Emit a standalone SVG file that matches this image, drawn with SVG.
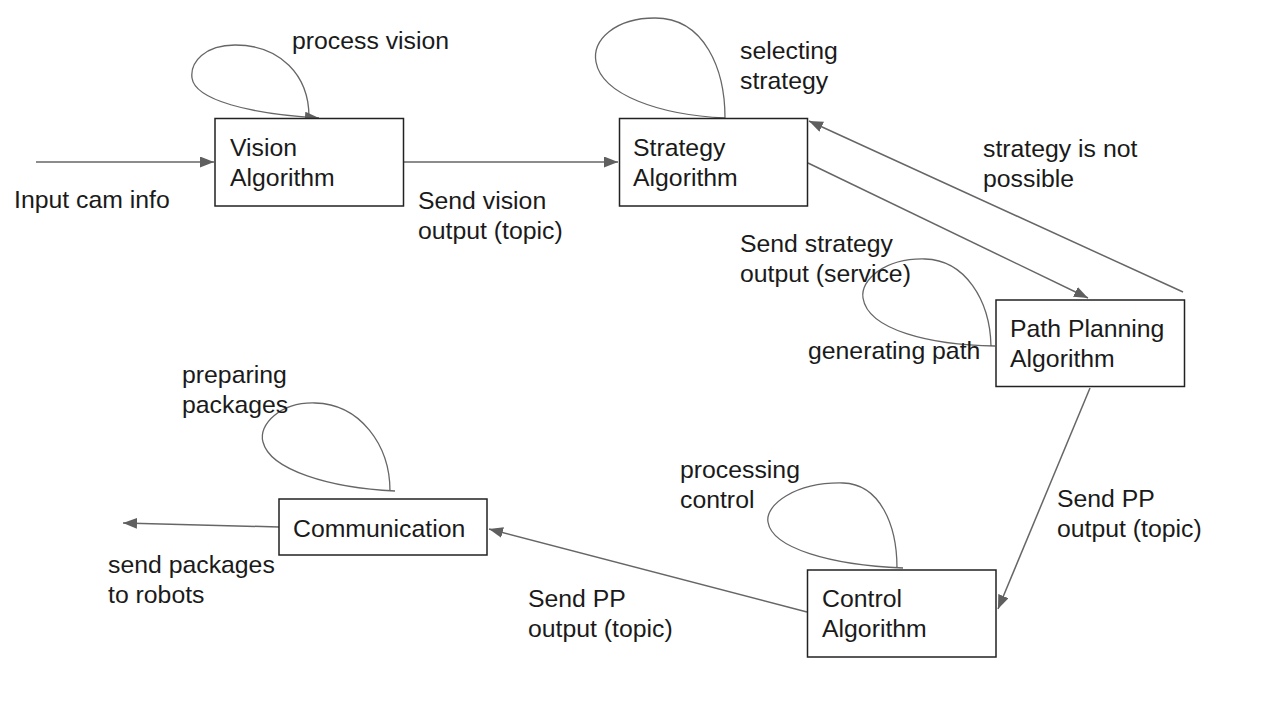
<svg xmlns="http://www.w3.org/2000/svg" width="1286" height="715" viewBox="0 0 1286 715">
<style>
  .box { fill: #ffffff; stroke: #222222; stroke-width: 1.5; }
  .t { font-family: "Liberation Sans", Arial, sans-serif; font-size: 24.8px; fill: #1a1a1a; }
  .edge { fill: none; stroke: #666666; stroke-width: 1.5; }
  .loop { fill: none; stroke: #666666; stroke-width: 1.3; }
</style>
<defs>
  <marker id="arrow" markerUnits="userSpaceOnUse" markerWidth="15" markerHeight="12" refX="14" refY="5.5" orient="auto">
    <path d="M0,0 L14,5.5 L0,11 Z" fill="#5f5f5f"/>
  </marker>
</defs>
<rect width="1286" height="715" fill="#ffffff"/>

<g id="connectors">
  <path class="edge" d="M36 162 L214 162" marker-end="url(#arrow)"/>
  <path class="edge" d="M404 162 L618 162" marker-end="url(#arrow)"/>
  <path class="edge" d="M808 163 L1088 298" marker-end="url(#arrow)"/>
  <path class="edge" d="M1183 292 L809 121" marker-end="url(#arrow)"/>
  <path class="edge" d="M1090 388 L998 609" marker-end="url(#arrow)"/>
  <path class="edge" d="M807 612 L489 529" marker-end="url(#arrow)"/>
  <path class="edge" d="M279 527 L123 523" marker-end="url(#arrow)"/>

  <path class="loop" d="M309 117 C309 75, 280 45, 235 45 C205 45, 190 62, 192 78 C195 100, 250 114, 319 118" marker-end="url(#arrow)"/>
  <path class="loop" d="M725 118 C725 70, 705 18, 655 18 C615 18, 592 40, 596 62 C602 95, 660 115, 725 118"/>
  <path class="loop" d="M991 346 C990 300, 965 260, 925 259 C885 258, 860 280, 863 298 C868 330, 930 345, 995 346"/>
  <path class="loop" d="M390 491 C390 445, 360 404, 315 403 C280 402, 258 425, 263 442 C270 470, 330 488, 395 491"/>
  <path class="loop" d="M897 568 C897 525, 880 484, 843 483 C795 482, 765 505, 768 522 C772 548, 830 565, 903 568"/>

  <text class="t" x="14" y="208">Input cam info</text>
  <text class="t" x="292" y="49">process vision</text>
  <text class="t" x="418" y="209">Send vision</text>
  <text class="t" x="418" y="239">output (topic)</text>
  <text class="t" x="740" y="59">selecting</text>
  <text class="t" x="740" y="89">strategy</text>
  <text class="t" x="983" y="157">strategy is not</text>
  <text class="t" x="983" y="187">possible</text>
  <text class="t" x="740" y="252">Send strategy</text>
  <text class="t" x="740" y="282">output (service)</text>
  <text class="t" x="808" y="359">generating path</text>
  <text class="t" x="1057" y="507">Send PP</text>
  <text class="t" x="1057" y="537">output (topic)</text>
  <text class="t" x="680" y="478">processing</text>
  <text class="t" x="680" y="508">control</text>
  <text class="t" x="528" y="607">Send PP</text>
  <text class="t" x="528" y="637">output (topic)</text>
  <text class="t" x="182" y="383">preparing</text>
  <text class="t" x="182" y="413">packages</text>
  <text class="t" x="108" y="573">send packages</text>
  <text class="t" x="108" y="603">to robots</text>
</g>

<g id="vision">
  <rect class="box" x="215" y="118.5" width="188.5" height="87.5"/>
  <text class="t" x="230" y="156">Vision</text>
  <text class="t" x="230" y="186">Algorithm</text>
</g>
<g id="strategy">
  <rect class="box" x="619.5" y="118.5" width="188" height="87.5"/>
  <text class="t" x="633" y="156">Strategy</text>
  <text class="t" x="633" y="186">Algorithm</text>
</g>
<g id="pathplanning">
  <rect class="box" x="996" y="300" width="188.5" height="86.5"/>
  <text class="t" x="1010" y="337">Path Planning</text>
  <text class="t" x="1010" y="367">Algorithm</text>
</g>
<g id="control">
  <rect class="box" x="807.5" y="570" width="188.5" height="87"/>
  <text class="t" x="822" y="607">Control</text>
  <text class="t" x="822" y="637">Algorithm</text>
</g>
<g id="communication">
  <rect class="box" x="279" y="499" width="208" height="56"/>
  <text class="t" x="293" y="537">Communication</text>
</g>
</svg>
